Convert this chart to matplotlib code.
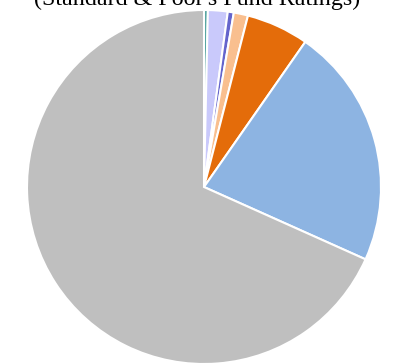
import matplotlib
matplotlib.use("Agg")
import matplotlib.pyplot as plt

# Fund rating shares (percent), clockwise from 12 o'clock
ratings = ["AAA-teal", "AA", "A", "BBB", "BB", "B", "Not rated"]
shares = [0.35, 1.8, 0.55, 1.3, 5.7, 22.0, 68.3]
colors = ["#4a9e9b", "#c9c9fb", "#6464cc", "#f9bf8f", "#e46c0a", "#8db4e2", "#bfbfbf"]

fig = plt.figure(figsize=(3.93, 3.64), dpi=100)
ax = fig.add_axes([0, 0, 1, 1])

ax.pie(shares, colors=colors, startangle=90, counterclock=False,
       radius=1.0, wedgeprops=dict(edgecolor="white", linewidth=1.5))

# place the pie: centre at (204, 187) px, radius 177 px
r = 177.0
ax.set_xlim(-204 / r, (393 - 204) / r)
ax.set_ylim((187 - 364) / r, 187 / r)
ax.set_aspect("auto")
ax.axis("off")

# title sits partly above the top edge, as in the reference
fig.text(197 / 393, 1 - 5 / 364, "(Standard & Poor's Fund Ratings)",
         ha="center", va="baseline", fontsize=17.3,
         family=["Liberation Serif", "DejaVu Serif"], color="black")

fig.savefig("out.png", dpi=100)
